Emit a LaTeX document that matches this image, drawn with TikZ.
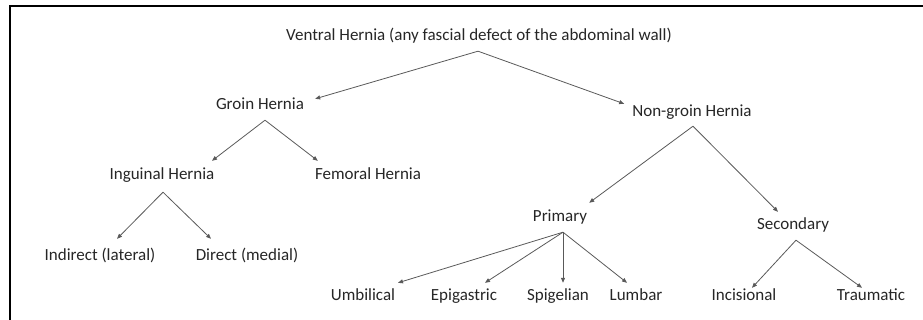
\documentclass[tikz,border=0pt]{standalone}
\usepackage{fontspec}
\setmainfont{Carlito}
\usepackage{tikz}
\usetikzlibrary{arrows.meta,calc}

\begin{document}
\begin{tikzpicture}[x=1pt,y=-1pt,
  lbl/.style={inner xsep=4pt,inner ysep=5pt,text height=12pt,text depth=4pt,text=black!85,font=\fontsize{17}{20}\selectfont},
  arr/.style={line width=0.8pt,draw=black!65,-{Triangle[length=5pt,width=4pt]}}]
\useasboundingbox (0,0) rectangle (923,320);
\draw [line width=2.6pt] (923,6) -- (10,6) -- (10,320);

\node[lbl] (V) at (479,37) {Ventral Hernia (any fascial defect of the abdominal wall)};
\node[lbl] (G) at (260,106) {Groin Hernia};
\node[lbl] (N) at (692,113) {Non-groin Hernia};
\node[lbl] (I) at (162,176) {Inguinal Hernia};
\node[lbl] (F) at (368,176) {Femoral Hernia};
\node[lbl] (IL) at (100,257) {Indirect (lateral)};
\node[lbl] (DM) at (247,257) {Direct (medial)};
\node[lbl] (P) at (560,218) {Primary};
\node[lbl] (S) at (793,226) {Secondary};
\node[lbl] (U) at (363,296) {Umbilical};
\node[lbl] (E) at (464,296) {Epigastric};
\node[lbl] (Sp) at (558,296) {Spigelian};
\node[lbl] (L) at (636,296) {Lumbar};
\node[lbl] (Ic) at (744,296) {Incisional};
\node[lbl] (T) at (871,296) {Traumatic};

\draw [arr] ([shift={(-1pt,-1pt)}]V.south) -- ([shift={(7pt,-6pt)}]G.north east);
\draw [arr] ([shift={(-1pt,-1pt)}]V.south) -- ([shift={(-4pt,-4pt)}]N.north west);
\draw [arr] ([shift={(5pt,-1pt)}]G.south) -- ([shift={(50pt,2pt)}]I.north);
\draw [arr] ([shift={(5pt,-1pt)}]G.south) -- ([shift={(7pt,2pt)}]F.north west);
\draw [arr] ([shift={(1pt,-3pt)}]I.south) -- ([shift={(17pt,5pt)}]IL.north);
\draw [arr] ([shift={(1pt,-3pt)}]I.south) -- ([shift={(-36pt,5pt)}]DM.north);
\draw [arr] ([xshift=1pt]N.south) -- ([shift={(-2pt,2pt)}]P.north east);
\draw [arr] ([xshift=1pt]N.south) -- ([shift={(-15pt,1pt)}]S.north);
\foreach \c/\d in {U/35,E/21,Sp/5,L/-9}
	\draw [arr] ([shift={(3pt,-1pt)}]P.south) -- ([xshift=\d pt]\c.north);
\draw [arr] ([shift={(3pt,-1pt)}]S.south) -- ([shift={(8pt,-5pt)}]Ic.north);
\draw [arr] ([shift={(3pt,-1pt)}]S.south) -- ([shift={(-9pt,-5pt)}]T.north);
\end{tikzpicture}
\end{document}
